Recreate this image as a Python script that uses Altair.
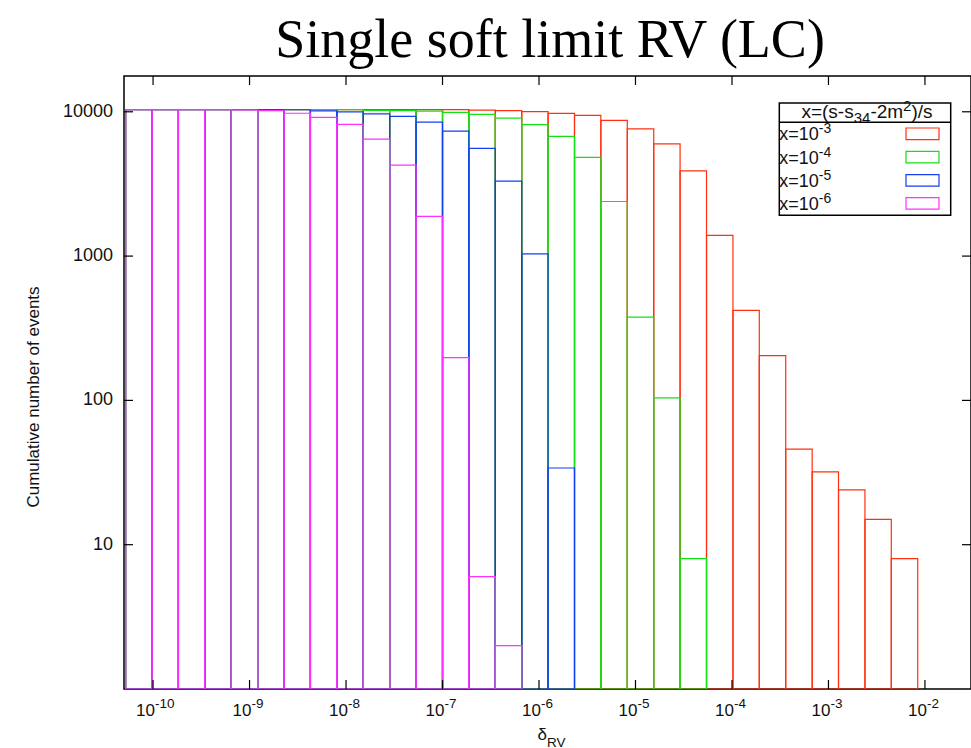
import altair as alt
import pandas as pd

# ---------------- data ----------------
# log10 of the bin edges of delta_RV (first bin is clipped by the left frame)
edges_log = [-10.284, -10.010, -9.737, -9.463, -9.189, -8.916, -8.642, -8.369,
             -8.095, -7.821, -7.548, -7.274, -7.000, -6.727, -6.453, -6.179,
             -5.906, -5.632, -5.359, -5.085, -4.811, -4.538, -4.264, -3.990,
             -3.717, -3.443, -3.169, -2.896, -2.622, -2.349, -2.075]

# cumulative number of events per bin, for each value of x
red_counts = [10360, 10360, 10360, 10360, 10360, 10360, 10360, 10360, 10360, 10360,
              10360, 10360, 10360, 10275, 10190, 10030, 9750, 9440, 8720, 7620,
              6000, 3900, 1390, 420, 204, 46, 32, 24, 15, 8]
green_counts = [10360, 10360, 10360, 10360, 10360, 10360, 10360, 10360, 10360, 10225,
                10190, 10110, 9900, 9590, 9040, 8150, 6750, 4830, 2390, 377,
                104, 8]
blue_counts = [10360, 10360, 10360, 10360, 10360, 10360, 10330, 10160, 10000, 9685,
               9290, 8490, 7350, 5575, 3307, 1036, 34]
magenta_counts = [10360, 10360, 10360, 10360, 10300, 10200, 9770, 9146, 8178, 6467,
                  4271, 1882, 198, 6, 2]

series_counts = [red_counts, green_counts, blue_counts, magenta_counts]
series_colors = ["#ff3010", "#14e014", "#1440f0", "#ff30ff"]
legend_exps = ["-3", "-4", "-5", "-6"]

x_tick_values = [1e-10, 1e-9, 1e-8, 1e-7, 1e-6, 1e-5, 1e-4, 1e-3, 1e-2]
x_tick_exps = ["-10", "-9", "-8", "-7", "-6", "-5", "-4", "-3", "-2"]
y_tick_values = [10, 100, 1000, 10000]
y_tick_labels = ["10", "100", "1000", "10000"]

title_text = "Single soft limit RV (LC)"
y_title = "Cumulative number of events"
x_title_main = "\u03b4"
x_title_sub = "RV"
legend_header = [("x=(s-s", "main"), ("34", "sub"), ("-2m", "main"), ("2", "sup"), (")/s", "main")]
legend_base = "x=10"

# ---------------- layout ----------------
W, H = 847, 613
SANS = "Liberation Sans"
SERIF = "Liberation Serif"
TXT = "#111111"

xscale = alt.Scale(type="log", domain=[5e-11, 3e-2], nice=False)
yscale = alt.Scale(type="log", domain=[1, 17700], nice=False)

layers = []

# bars
for counts, col in zip(series_counts, series_colors):
    rows = []
    for i, c in enumerate(counts):
        rows.append({"x": 10 ** edges_log[i], "x2": 10 ** edges_log[i + 1],
                     "y": c, "y0": 1})
    df = pd.DataFrame(rows)
    layers.append(
        alt.Chart(df).mark_rect(filled=False, color=col, strokeWidth=1.2, clip=True)
        .encode(x=alt.X("x:Q", scale=xscale, axis=None), x2="x2:Q",
                y=alt.Y("y:Q", scale=yscale, axis=None), y2="y0:Q")
    )

# inward ticks (gnuplot style, mirrored)
xt = pd.DataFrame({"v": x_tick_values, "base": ["10"] * len(x_tick_values), "exp": x_tick_exps})
yt = pd.DataFrame({"v": y_tick_values, "lab": y_tick_labels})
layers.append(alt.Chart(xt).mark_rule(color="black", strokeWidth=1.2).encode(
    x=alt.X("v:Q", scale=xscale, axis=None), y=alt.value(H - 9), y2=alt.value(H)))
layers.append(alt.Chart(xt).mark_rule(color="black", strokeWidth=1.2).encode(
    x=alt.X("v:Q", scale=xscale, axis=None), y=alt.value(0), y2=alt.value(9)))
layers.append(alt.Chart(yt).mark_rule(color="black", strokeWidth=1.2).encode(
    y=alt.Y("v:Q", scale=yscale, axis=None), x=alt.value(0), x2=alt.value(9)))
layers.append(alt.Chart(yt).mark_rule(color="black", strokeWidth=1.2).encode(
    y=alt.Y("v:Q", scale=yscale, axis=None), x=alt.value(W - 9), x2=alt.value(W)))

# y tick labels
layers.append(alt.Chart(yt).mark_text(align="right", baseline="middle", dx=-11,
                                      font=SANS, fontSize=18, color=TXT).encode(
    y=alt.Y("v:Q", scale=yscale, axis=None), x=alt.value(0), text="lab:N"))

# x tick labels 10^n
layers.append(alt.Chart(xt).mark_text(align="right", baseline="alphabetic", dx=2,
                                      font=SANS, fontSize=17, color=TXT).encode(
    x=alt.X("v:Q", scale=xscale, axis=None), y=alt.value(H + 27), text="base:N"))
layers.append(alt.Chart(xt).mark_text(align="left", baseline="alphabetic", dx=2,
                                      font=SANS, fontSize=13.5, color=TXT).encode(
    x=alt.X("v:Q", scale=xscale, axis=None), y=alt.value(H + 19), text="exp:N"))


def txt(s, x, y, size, align="left", font=SANS, color=TXT, angle=0, baseline="alphabetic"):
    return alt.Chart(pd.DataFrame({"t": [s]})).mark_text(
        align=align, baseline=baseline, font=font, fontSize=size, color=color, angle=angle
    ).encode(text="t:N", x=alt.value(x), y=alt.value(y))


# y title
layers.append(txt(y_title, -90, 321, 17, align="center", angle=270, baseline="middle"))

# x title delta_RV
layers.append(txt(x_title_main, 423, H + 51, 17, align="right"))
layers.append(txt(x_title_sub, 423, H + 57.5, 13.5))

# title
layers.append(txt(title_text, 426, -19, 54, align="center", font=SERIF, color="#000000"))

# legend box
one = pd.DataFrame({"a": [0]})
LX0, LX1, LY0, LY1 = 655.3, 826.7, 27, 139.3
layers.append(alt.Chart(one).mark_rect(fill="white", stroke="black", strokeWidth=1.5).encode(
    x=alt.value(LX0), x2=alt.value(LX1), y=alt.value(LY0), y2=alt.value(LY1)))
layers.append(alt.Chart(one).mark_rule(color="black", strokeWidth=1.5).encode(
    x=alt.value(LX0), x2=alt.value(LX1), y=alt.value(46.3)))

# legend header with sub/superscripts
widths = {"x": .5, "=": .584, "(": .333, "s": .5, "-": .333, "3": .556, "4": .556,
          "2": .556, "m": .833, ")": .333, "/": .278}
sizes = {"main": 19, "sub": 15, "sup": 15}
shifts = {"main": 0, "sub": 5, "sup": -7.5}
total = sum(sum(widths[ch] for ch in s) * sizes[k] for s, k in legend_header)
cx = 743 - total / 2
for s, k in legend_header:
    layers.append(txt(s, cx, 42 + shifts[k], sizes[k]))
    cx += sum(widths[ch] for ch in s) * sizes[k]

# legend entries
entry_base = [64.3, 87.6, 111.0, 134.3]
box_tops = [52.0, 75.3, 98.6, 121.6]
for e, yb, bt, col in zip(legend_exps, entry_base, box_tops, series_colors):
    layers.append(txt(legend_base, LX0, yb, 18))
    layers.append(txt(e, LX0 + 39.5, yb - 7, 14))
    layers.append(alt.Chart(one).mark_rect(filled=False, color=col, strokeWidth=1.2).encode(
        x=alt.value(782), x2=alt.value(815), y=alt.value(bt), y2=alt.value(bt + 11.6)))

chart = alt.layer(*layers).properties(
    width=W, height=H,
    padding={"left": 124, "top": 76, "right": 0, "bottom": 59},
    autosize=alt.AutoSizeParams(type="none"),
).configure_view(stroke="black", strokeWidth=1.5)

chart.save("out.html", embed_options={"renderer": "svg", "actions": False})
